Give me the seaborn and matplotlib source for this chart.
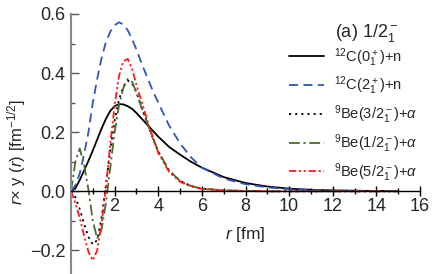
import numpy as np
import pandas as pd
import matplotlib
matplotlib.use("Agg")
import matplotlib.pyplot as plt
from matplotlib.ticker import MultipleLocator, FixedLocator
import seaborn as sns

# ---- data ----
r = [0, 0.2, 0.4, 0.6, 0.8, 1.0, 1.2, 1.4, 1.6, 1.8, 2.0, 2.2, 2.4, 2.6, 2.8, 3.0,
     3.25, 3.5, 3.75, 4.0, 4.5, 5.0, 5.5, 6, 7, 8, 9, 10, 11, 12, 13, 14, 15]

c12_0 = [0, 0.01, 0.038, 0.07, 0.103, 0.138, 0.175, 0.212, 0.245, 0.272, 0.288, 0.295,
         0.294, 0.288, 0.279, 0.265, 0.245, 0.225, 0.205, 0.185, 0.15, 0.124, 0.1, 0.08,
         0.048, 0.028, 0.016, 0.009, 0.005, 0.003, 0.002, 0.001, 0.0005]
c12_2 = [0, 0.02, 0.06, 0.125, 0.2, 0.3, 0.38, 0.45, 0.505, 0.54, 0.562, 0.572, 0.565,
         0.545, 0.515, 0.48, 0.43, 0.385, 0.34, 0.3, 0.222, 0.162, 0.115, 0.08, 0.043,
         0.024, 0.013, 0.007, 0.004, 0.002, 0.001, 0.0005, 0.0003]
be_32 = [0, -0.02, -0.06, -0.11, -0.155, -0.18, -0.165, -0.09, 0.02, 0.14, 0.24, 0.31,
         0.355, 0.375, 0.365, 0.335, 0.28, 0.23, 0.18, 0.135, 0.07, 0.035, 0.018, 0.009,
         0.003, 0.001, 0, 0, 0, 0, 0, 0, 0]
be_12 = [0, 0.1, 0.145, 0.09, 0.005, -0.1, -0.16, -0.13, -0.04, 0.08, 0.2, 0.29, 0.35,
         0.38, 0.37, 0.335, 0.28, 0.23, 0.18, 0.135, 0.07, 0.035, 0.018, 0.009, 0.003,
         0.001, 0, 0, 0, 0, 0, 0, 0]
be_52 = [0, -0.04, -0.09, -0.15, -0.205, -0.234, -0.2, -0.11, 0.01, 0.16, 0.29, 0.39,
         0.44, 0.448, 0.415, 0.36, 0.3, 0.24, 0.185, 0.13, 0.065, 0.032, 0.016, 0.008,
         0.003, 0.001, 0, 0, 0, 0, 0, 0, 0]

labels = [r"$^{12}$C(0$_1^+$)+n", r"$^{12}$C(2$_1^+$)+n", r"$^{9}$Be(3/2$_1^-$)+$\alpha$",
          r"$^{9}$Be(1/2$_1^-$)+$\alpha$", r"$^{9}$Be(5/2$_1^-$)+$\alpha$"]
series = [c12_0, c12_2, be_32, be_12, be_52]
x_ticks = [2, 4, 6, 8, 10, 12, 14, 16]
y_ticks = [-0.2, 0.0, 0.2, 0.4, 0.6]

colors = ["black", "#3355bb", "black", "#4b6a2e", "#ff1a1a"]
styles = ["-", (0, (5, 3)), (0, (1.2, 2.2)), (0, (6, 2, 1.2, 2)), (0, (4, 1.5, 1.2, 1.5, 1.2, 1.5))]

sns.set_theme(style="white")
plt.rcParams["font.family"] = ["Liberation Sans", "DejaVu Sans"]
plt.rcParams["mathtext.fontset"] = "custom"
plt.rcParams["mathtext.rm"] = "Liberation Sans"
plt.rcParams["mathtext.it"] = "Liberation Sans:italic"
plt.rcParams["mathtext.cal"] = "Liberation Sans"
plt.rcParams["axes.unicode_minus"] = True

fig = plt.figure(figsize=(4.42, 2.74), dpi=100)
ax = fig.add_axes([71 / 442, 0.0, 349 / 442, 260 / 274])

for vals, lab, col, ls in zip(series, labels, colors, styles):
    df = pd.DataFrame({"r": r, "v": vals})
    sns.lineplot(data=df, x="r", y="v", ax=ax, color=col, linestyle=ls,
                 linewidth=1.3, label=lab)

ax.set_xlim(0, 16)
ax.set_ylim(-0.28, 0.6)

ax.spines["top"].set_visible(False)
ax.spines["right"].set_visible(False)
ax.spines["bottom"].set_position(("data", 0))
ax.spines["bottom"].set_color("black")
ax.spines["bottom"].set_linewidth(1.0)
ax.spines["left"].set_color("#888888")
ax.spines["left"].set_linewidth(1.5)

ax.xaxis.set_major_locator(FixedLocator(x_ticks))
ax.xaxis.set_minor_locator(FixedLocator([1, 3, 5, 7, 9, 11, 13, 15]))
ax.yaxis.set_major_locator(FixedLocator(y_ticks))
ax.yaxis.set_minor_locator(FixedLocator([-0.1, 0.1, 0.3, 0.5]))
ax.set_xticklabels([str(t) for t in x_ticks])
ax.set_yticklabels(["\u22120.2", "0.0", "0.2", "0.4", "0.6"])

ax.tick_params(axis="x", which="major", direction="inout", length=7, width=1.0,
               color="black", labelsize=13, pad=1, bottom=True)
ax.tick_params(axis="x", which="minor", direction="inout", length=5, width=1.0,
               color="black", bottom=True)
ax.tick_params(axis="y", which="major", direction="in", length=6, width=1.0,
               color="#555555", labelsize=13, pad=4, left=True)
ax.tick_params(axis="y", which="minor", direction="in", length=3, width=1.0,
               color="#555555", left=True)

ax.set_xlabel(r"$r$ [fm]", fontsize=12.5)
ax.xaxis.set_label_coords(0.5, 0.15)
ax.xaxis.label.set_va("center")
ax.set_ylabel(r"$r$$\times$ y ($r$) [fm$^{-1/2}$]", fontsize=12)
ax.yaxis.set_label_coords(-0.155, 0.469)
ax.yaxis.label.set_va("center")

ax.text(335 / 442, 1 - 33 / 274, r"(a) 1/2$_1^-$", transform=fig.transFigure,
        fontsize=13, va="center", ha="left")

leg = ax.legend(loc="upper left", bbox_to_anchor=(289 / 442, 1 - 46 / 274),
                bbox_transform=fig.transFigure, frameon=False, fontsize=10.5,
                handlelength=2.4, handletextpad=0.7, labelspacing=0.42,
                borderaxespad=0, borderpad=0)

ax.grid(False)
fig.savefig("out.png", dpi=100)
